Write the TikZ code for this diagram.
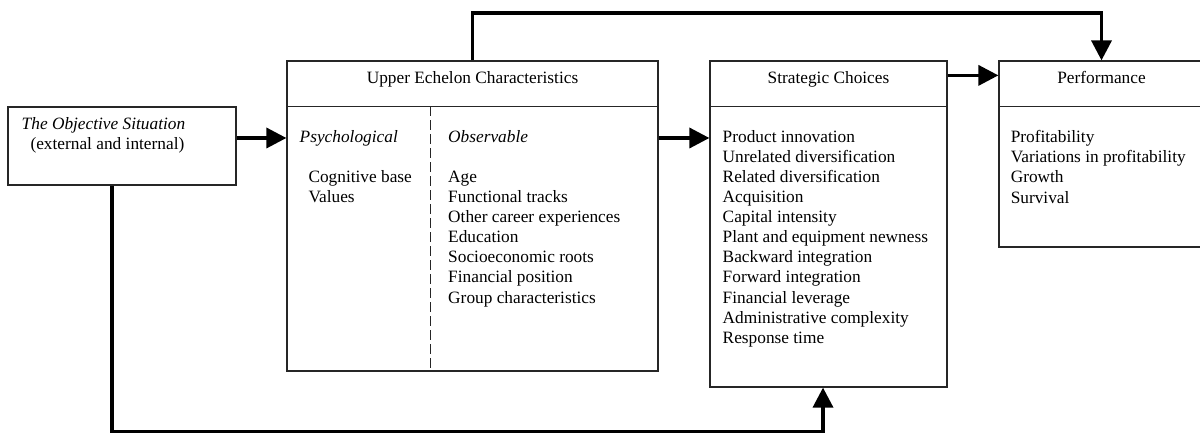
\documentclass[tikz,border=0pt]{standalone}
\usepackage{fontspec}
\setmainfont{Liberation Serif}
\usetikzlibrary{arrows.meta,positioning,calc}

\begin{document}
\begin{tikzpicture}[
  font=\fontsize{9.85}{11.4}\selectfont,
  box/.style={
    draw=black!85,
    line width=0.7pt,
    inner sep=0pt,
    fill=white
  },
  title/.style={anchor=base, inner sep=0pt},
  items/.style={anchor=north west, align=left, inner sep=0pt},
  rule/.style={draw=black!85, line width=0.7pt},
  divider/.style={draw=black!85, line width=0.6pt, dash pattern=on 2mm off 0.8mm},
  flow/.style={-{Triangle[length=4mm,width=4mm]}, line width=2pt, draw=black}
]
\useasboundingbox (0,0) rectangle (24,8.66);

% Boxes
\node[box, minimum width=4.56cm, minimum height=1.56cm] (obj)  at (2.44, 5.74) {};
\node[box, minimum width=7.42cm, minimum height=6.20cm] (ue)   at (9.45, 4.34) {};
\node[box, minimum width=4.74cm, minimum height=6.52cm] (sc)   at (16.57,4.18) {};
\node[box, minimum width=4.10cm, minimum height=3.72cm] (perf) at (22.03,5.58) {};

% Header rules
\draw[rule] ($(ue.north west)+(0,-0.92)$) -- ($(ue.north east)+(0,-0.92)$);
\draw[rule] ($(sc.north west)+(0,-0.92)$) -- ($(sc.north east)+(0,-0.92)$);
\draw[rule] ($(perf.north west)+(0,-0.92)$) -- ($(perf.north east)+(0,-0.92)$);
\draw[divider] ($(ue.north west)+(2.88,-0.92)$) -- ($(ue.south west)+(2.88,0)$);

% Texts
\node[items] (objtext) at ($(obj.north west)+(0.28,-0.22)$)
  {\textit{The Objective Situation}\\\hspace*{5pt}(external and internal)};

\node[title] (uetitle)   at ($(ue.north)+(0,-0.46)$)   {Upper Echelon Characteristics};
\node[title] (sctitle)   at ($(sc.north)+(0,-0.46)$)   {Strategic Choices};
\node[title] (perftitle) at ($(perf.north)+(0,-0.46)$) {Performance};

\node[items] (psych) at ($(ue.north west)+(0.26,-1.40)$)
  {\textit{Psychological}\\[11.4pt]
   \hspace*{5pt}Cognitive base\\
   \hspace*{5pt}Values};
\node[items] (observ) at ($(ue.north west)+(3.23,-1.40)$)
  {\textit{Observable}\\[11.4pt]
   Age\\
   Functional tracks\\
   Other career experiences\\
   Education\\
   Socioeconomic roots\\
   Financial position\\
   Group characteristics};

\node[items] (choices) at ($(sc.north west)+(0.26,-1.40)$)
  {Product innovation\\
   Unrelated diversification\\
   Related diversification\\
   Acquisition\\
   Capital intensity\\
   Plant and equipment newness\\
   Backward integration\\
   Forward integration\\
   Financial leverage\\
   Administrative complexity\\
   Response time};

\node[items] (measures) at ($(perf.north west)+(0.24,-1.40)$)
  {Profitability\\
   Variations in profitability\\
   Growth\\
   Survival};

% Connectors
\draw[flow] ([yshift=0.16cm]obj.east) -- ([yshift=0.16cm]obj.east -| ue.west);
\draw[flow] ([yshift=1.56cm]ue.east) -- ([yshift=1.56cm]ue.east -| sc.west);
\draw[flow] ([yshift=-0.30cm]sc.north east) -- ([yshift=-0.30cm]sc.north east -| perf.west);
\draw[flow] (ue.north) -- ++(0,0.95) -| (perf.north);
\draw[flow] ([xshift=-0.2cm]obj.south) -- ++(0,-4.92) -| ([xshift=-0.11cm]sc.south);

\end{tikzpicture}
\end{document}
